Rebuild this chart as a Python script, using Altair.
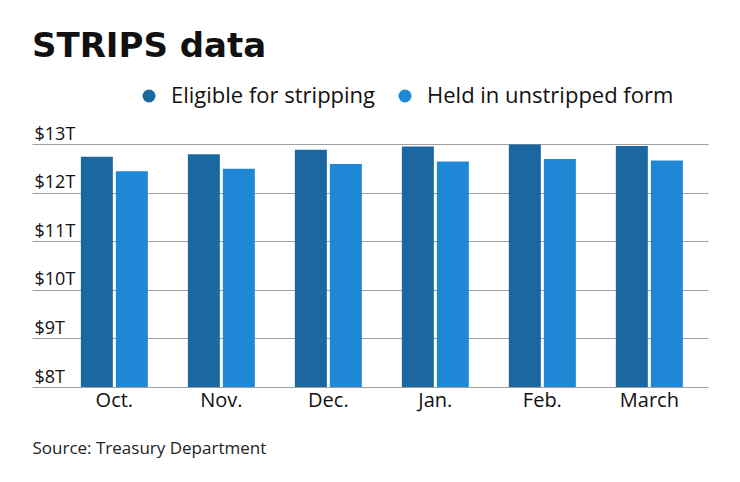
import altair as alt
import pandas as pd

FONT = "Open Sans"
TITLE_FONT = "DejaVu Sans"
DARK_BLUE = "#1b67a0"
LIGHT_BLUE = "#1f88d6"

months = ["Oct.", "Nov.", "Dec.", "Jan.", "Feb.", "March"]
series = ["Eligible for stripping", "Held in unstripped form"]
eligible = [12.74, 12.79, 12.88, 12.95, 12.99, 12.96]
unstripped = [12.44, 12.49, 12.59, 12.64, 12.69, 12.66]
y_ticks = [8, 9, 10, 11, 12, 13]

rows = []
for month, e, u in zip(months, eligible, unstripped):
    rows.append({"month": month, "series": series[0], "value": e})
    rows.append({"month": month, "series": series[1], "value": u})
df = pd.DataFrame(rows)

chart = alt.Chart(df).mark_bar().encode(
    x=alt.X(
        "month:N",
        sort=months,
        scale=alt.Scale(paddingInner=0.374, paddingOuter=0.346, align=0.66),
        axis=alt.Axis(
            title="Source: Treasury Department",
            titleAnchor="start",
            titleAlign="left",
            titleFont=FONT,
            titleFontSize=17,
            titleFontWeight="normal",
            titleColor="#222222",
            titlePadding=30,
            labelAngle=0,
            labelFont=FONT,
            labelFontSize=20,
            labelColor="#111111",
            labelPadding=3,
            domain=False,
            ticks=False,
        ),
    ),
    xOffset=alt.XOffset("series:N", sort=series, scale=alt.Scale(paddingInner=0.086)),
    y=alt.Y(
        "value:Q",
        scale=alt.Scale(domain=[8, 13], zero=False, clamp=True, nice=False),
        axis=alt.Axis(
            title=None,
            values=y_ticks,
            labelExpr="'$' + datum.value + 'T'",
            labelAlign="left",
            labelBaseline="alphabetic",
            labelPadding=-2,
            labelOffset=-5,
            labelFont=FONT,
            labelFontSize=18,
            labelColor="#111111",
            domain=False,
            ticks=False,
            tickSize=0,
            grid=True,
            gridColor="#a0a0a0",
            gridWidth=1.2,
        ),
    ),
    color=alt.Color(
        "series:N",
        sort=series,
        scale=alt.Scale(domain=series, range=[DARK_BLUE, LIGHT_BLUE]),
        legend=alt.Legend(
            title=None,
            orient="none",
            legendX=106,
            legendY=-59,
            direction="horizontal",
            symbolType="circle",
            symbolSize=169,
            symbolStrokeWidth=0,
            labelFont=FONT,
            labelFontSize=22,
            labelColor="#111111",
            labelOffset=11,
            labelLimit=400,
            columnPadding=18,
        ),
    ),
).properties(
    width=676,
    height=243,
    title=alt.TitleParams(
        "STRIPS data",
        anchor="start",
        frame="group",
        font=TITLE_FONT,
        fontSize=34,
        fontWeight="bold",
        color="#111111",
        offset=21,
    ),
    autosize=alt.AutoSizeParams(type="none"),
    padding={"left": 24, "top": 136, "right": 24, "bottom": 87},
).configure_view(stroke=None)

chart.save("out.html", embed_options={"renderer": "svg", "actions": False})
